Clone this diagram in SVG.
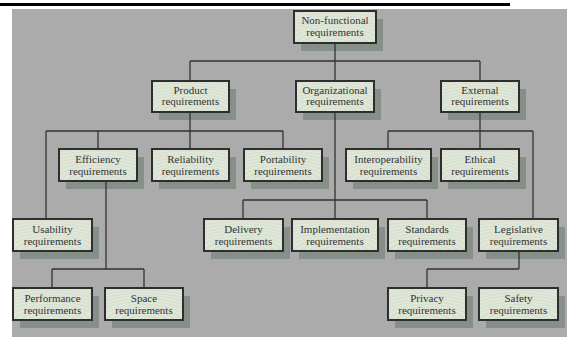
<svg xmlns="http://www.w3.org/2000/svg" width="567" height="337" viewBox="0 0 567 337">
<style>
.sh{fill:#879088}
.bx{fill:url(#tex);stroke:#2e2e2e;stroke-width:2}
.t{font-family:"Liberation Serif","Times New Roman",serif;font-size:11px;fill:#333;text-anchor:middle}
.c{stroke:#333;stroke-width:1.3;fill:none}
</style>
<defs>
<radialGradient id="tex" cx="0.5" cy="1.1" r="0.09" spreadMethod="repeat">
<stop offset="0" stop-color="#e2e9dc"/>
<stop offset="0.5" stop-color="#d6dfce"/>
<stop offset="1" stop-color="#e2e9dc"/>
</radialGradient>
</defs>
<rect x="0" y="3" width="510" height="3" fill="#000"/>
<rect x="12" y="9" width="555" height="328" fill="#ababab"/>

<g id="nonfunctional"><rect class="sh" x="301" y="19" width="82" height="32"/><rect class="bx" x="294" y="11" width="82" height="32"/><text class="t" x="335" y="24">Non-functional</text><text class="t" x="335" y="36">requirements</text></g>
<g id="product"><rect class="sh" x="159" y="89" width="77" height="31"/><rect class="bx" x="152" y="81" width="77" height="31"/><text class="t" x="190.5" y="93.5">Product</text><text class="t" x="190.5" y="105">requirements</text></g>
<g id="organizational"><rect class="sh" x="303" y="89" width="78" height="31"/><rect class="bx" x="296" y="81" width="78" height="31"/><text class="t" x="335" y="93.5">Organizational</text><text class="t" x="335" y="105">requirements</text></g>
<g id="external"><rect class="sh" x="448" y="89" width="78" height="31"/><rect class="bx" x="441" y="81" width="78" height="31"/><text class="t" x="480" y="93.5">External</text><text class="t" x="480" y="105">requirements</text></g>

<g id="efficiency"><rect class="sh" x="66" y="157" width="78" height="32"/><rect class="bx" x="59" y="149" width="78" height="32"/><text class="t" x="98" y="163">Efficiency</text><text class="t" x="98" y="175">requirements</text></g>
<g id="reliability"><rect class="sh" x="159" y="157" width="77" height="32"/><rect class="bx" x="152" y="149" width="77" height="32"/><text class="t" x="190.5" y="163">Reliability</text><text class="t" x="190.5" y="175">requirements</text></g>
<g id="portability"><rect class="sh" x="251" y="157" width="78" height="32"/><rect class="bx" x="244" y="149" width="78" height="32"/><text class="t" x="283" y="163">Portability</text><text class="t" x="283" y="175">requirements</text></g>
<g id="interoperability"><rect class="sh" x="353" y="157" width="85" height="32"/><rect class="bx" x="346" y="149" width="85" height="32"/><text class="t" x="388.5" y="163">Interoperability</text><text class="t" x="388.5" y="175">requirements</text></g>
<g id="ethical"><rect class="sh" x="448" y="157" width="78" height="32"/><rect class="bx" x="441" y="149" width="78" height="32"/><text class="t" x="480" y="163">Ethical</text><text class="t" x="480" y="175">requirements</text></g>

<g id="usability"><rect class="sh" x="20" y="227" width="79" height="32"/><rect class="bx" x="13" y="219" width="79" height="32"/><text class="t" x="52.5" y="233">Usability</text><text class="t" x="52.5" y="245">requirements</text></g>
<g id="delivery"><rect class="sh" x="211" y="227" width="79" height="32"/><rect class="bx" x="204" y="219" width="79" height="32"/><text class="t" x="243.5" y="233">Delivery</text><text class="t" x="243.5" y="245">requirements</text></g>
<g id="implementation"><rect class="sh" x="299" y="227" width="86" height="32"/><rect class="bx" x="292" y="219" width="86" height="32"/><text class="t" x="335" y="233">Implementation</text><text class="t" x="335" y="245">requirements</text></g>
<g id="standards"><rect class="sh" x="395" y="227" width="78" height="32"/><rect class="bx" x="388" y="219" width="78" height="32"/><text class="t" x="427" y="233">Standards</text><text class="t" x="427" y="245">requirements</text></g>
<g id="legislative"><rect class="sh" x="486" y="227" width="79" height="32"/><rect class="bx" x="479" y="219" width="79" height="32"/><text class="t" x="518.5" y="233">Legislative</text><text class="t" x="518.5" y="245">requirements</text></g>

<g id="performance"><rect class="sh" x="20" y="296" width="79" height="32"/><rect class="bx" x="13" y="288" width="79" height="32"/><text class="t" x="52.5" y="302">Performance</text><text class="t" x="52.5" y="314">requirements</text></g>
<g id="space"><rect class="sh" x="112" y="296" width="78" height="32"/><rect class="bx" x="105" y="288" width="78" height="32"/><text class="t" x="144" y="302">Space</text><text class="t" x="144" y="314">requirements</text></g>
<g id="privacy"><rect class="sh" x="395" y="296" width="78" height="32"/><rect class="bx" x="388" y="288" width="78" height="32"/><text class="t" x="427" y="302">Privacy</text><text class="t" x="427" y="314">requirements</text></g>
<g id="safety"><rect class="sh" x="486" y="296" width="79" height="32"/><rect class="bx" x="479" y="288" width="79" height="32"/><text class="t" x="518.5" y="302">Safety</text><text class="t" x="518.5" y="314">requirements</text></g>

<g id="connectors" class="c">
<path class="c" d="M335 44V61M190 61H480M190 61V80M335 61V80M480 61V80"/>
<path class="c" d="M190 113V131M46 131H283M46 131V218M98 131V148M190 131V148M283 131V148"/>
<path class="c" d="M335 113V218M243 200H427M243 200V218M427 200V218"/>
<path class="c" d="M480 113V131M388 131H533M388 131V148M480 131V148M533 131V218"/>
<path class="c" d="M106 182V269M52 269H144M52 269V287M144 269V287"/>
<path class="c" d="M519 252V269M427 269H519M427 269V287"/>
</g>
</svg>
